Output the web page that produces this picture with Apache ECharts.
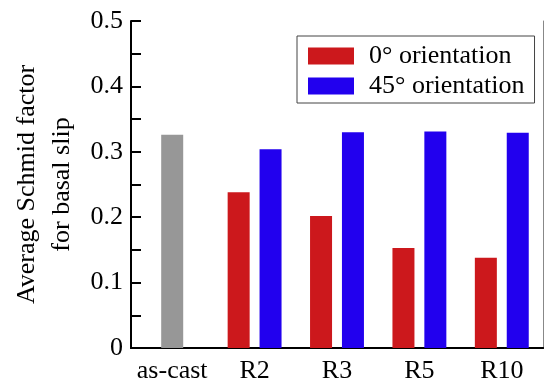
<!DOCTYPE html>
<html>
<head>
<meta charset="utf-8">
<script src="https://cdn.jsdelivr.net/npm/echarts@6/dist/echarts.min.js"></script>
<style>html,body{margin:0;padding:0;background:#fff}#c{width:544px;height:387px}</style>
</head>
<body>
<div id="c"></div>
<script>
var categories = ['as-cast', 'R2', 'R3', 'R5', 'R10'];
var asCastValues = [0.326, '-', '-', '-', '-'];
var orient0Values = ['-', 0.238, 0.202, 0.153, 0.138];
var orient45Values = ['-', 0.304, 0.330, 0.331, 0.329];
var seriesNames = ['0\u00b0 orientation', '45\u00b0 orientation'];
var yTicks = [0, 0.1, 0.2, 0.3, 0.4, 0.5];

var FONT = 'Liberation Serif';
var chart = echarts.init(document.getElementById('c'), null, {renderer: 'canvas'});
chart.setOption({
  animation: false,
  backgroundColor: '#fff',
  textStyle: {fontFamily: FONT},
  grid: {left: 131, right: 1, top: 21, bottom: 39, containLabel: false},
  legend: {
    orient: 'vertical', left: 297, top: 36,
    data: seriesNames,
    itemWidth: 46, itemHeight: 17, itemGap: 4,
    borderColor: '#444', borderWidth: 1,
    padding: [7, 10, 4, 11],
    icon: 'rect',
    textStyle: {fontFamily: FONT, fontSize: 26, color: '#000', padding: [0, 0, 0, 10]}
  },
  xAxis: [{
    type: 'category', data: categories, position: 'bottom',
    axisLine: {lineStyle: {color: '#000', width: 2}},
    axisTick: {show: false},
    axisLabel: {fontFamily: FONT, fontSize: 26, color: '#000', margin: 10, interval: 0}
  }, {
    type: 'category', data: categories, position: 'top',
    axisLine: {show: true, lineStyle: {color: '#000', width: 2}},
    axisTick: {show: false}, axisLabel: {show: false}
  }],
  yAxis: [{
    type: 'value', min: 0, max: 0.5, interval: 0.1,
    name: 'Average Schmid factor\nfor basal slip',
    nameLocation: 'middle', nameRotate: 90, nameGap: 48,
    nameTextStyle: {fontFamily: FONT, fontSize: 26, color: '#000', lineHeight: 35},
    axisLine: {show: true, lineStyle: {color: '#000', width: 2}},
    axisTick: {show: true, inside: true, length: 10, lineStyle: {color: '#000', width: 2}},
    minorTick: {show: true, splitNumber: 2, length: 10, lineStyle: {color: '#000', width: 2}},
    splitLine: {show: false},
    axisLabel: {fontFamily: FONT, fontSize: 26, color: '#000', margin: 8,
      formatter: function (v) { var i = yTicks.indexOf(Math.round(v * 10) / 10); return i >= 0 ? String(yTicks[i]) : ''; }}
  }, {
    type: 'value', min: 0, max: 0.5, interval: 0.1, position: 'right',
    axisLine: {show: true, lineStyle: {color: '#888', width: 1}},
    axisTick: {show: false}, axisLabel: {show: false}, splitLine: {show: false}
  }],
  series: [{
    name: 'as-cast', type: 'bar', xAxisIndex: 1, yAxisIndex: 0,
    data: asCastValues, barWidth: 22,
    itemStyle: {color: '#979797'}
  }, {
    name: seriesNames[0], type: 'bar', xAxisIndex: 0, data: orient0Values,
    barWidth: 22, barGap: '45%',
    itemStyle: {color: '#cc181c'}
  }, {
    name: seriesNames[1], type: 'bar', xAxisIndex: 0, data: orient45Values,
    barWidth: 22, barGap: '45%',
    itemStyle: {color: '#2200ee'}
  }]
});
</script>
</body>
</html>
